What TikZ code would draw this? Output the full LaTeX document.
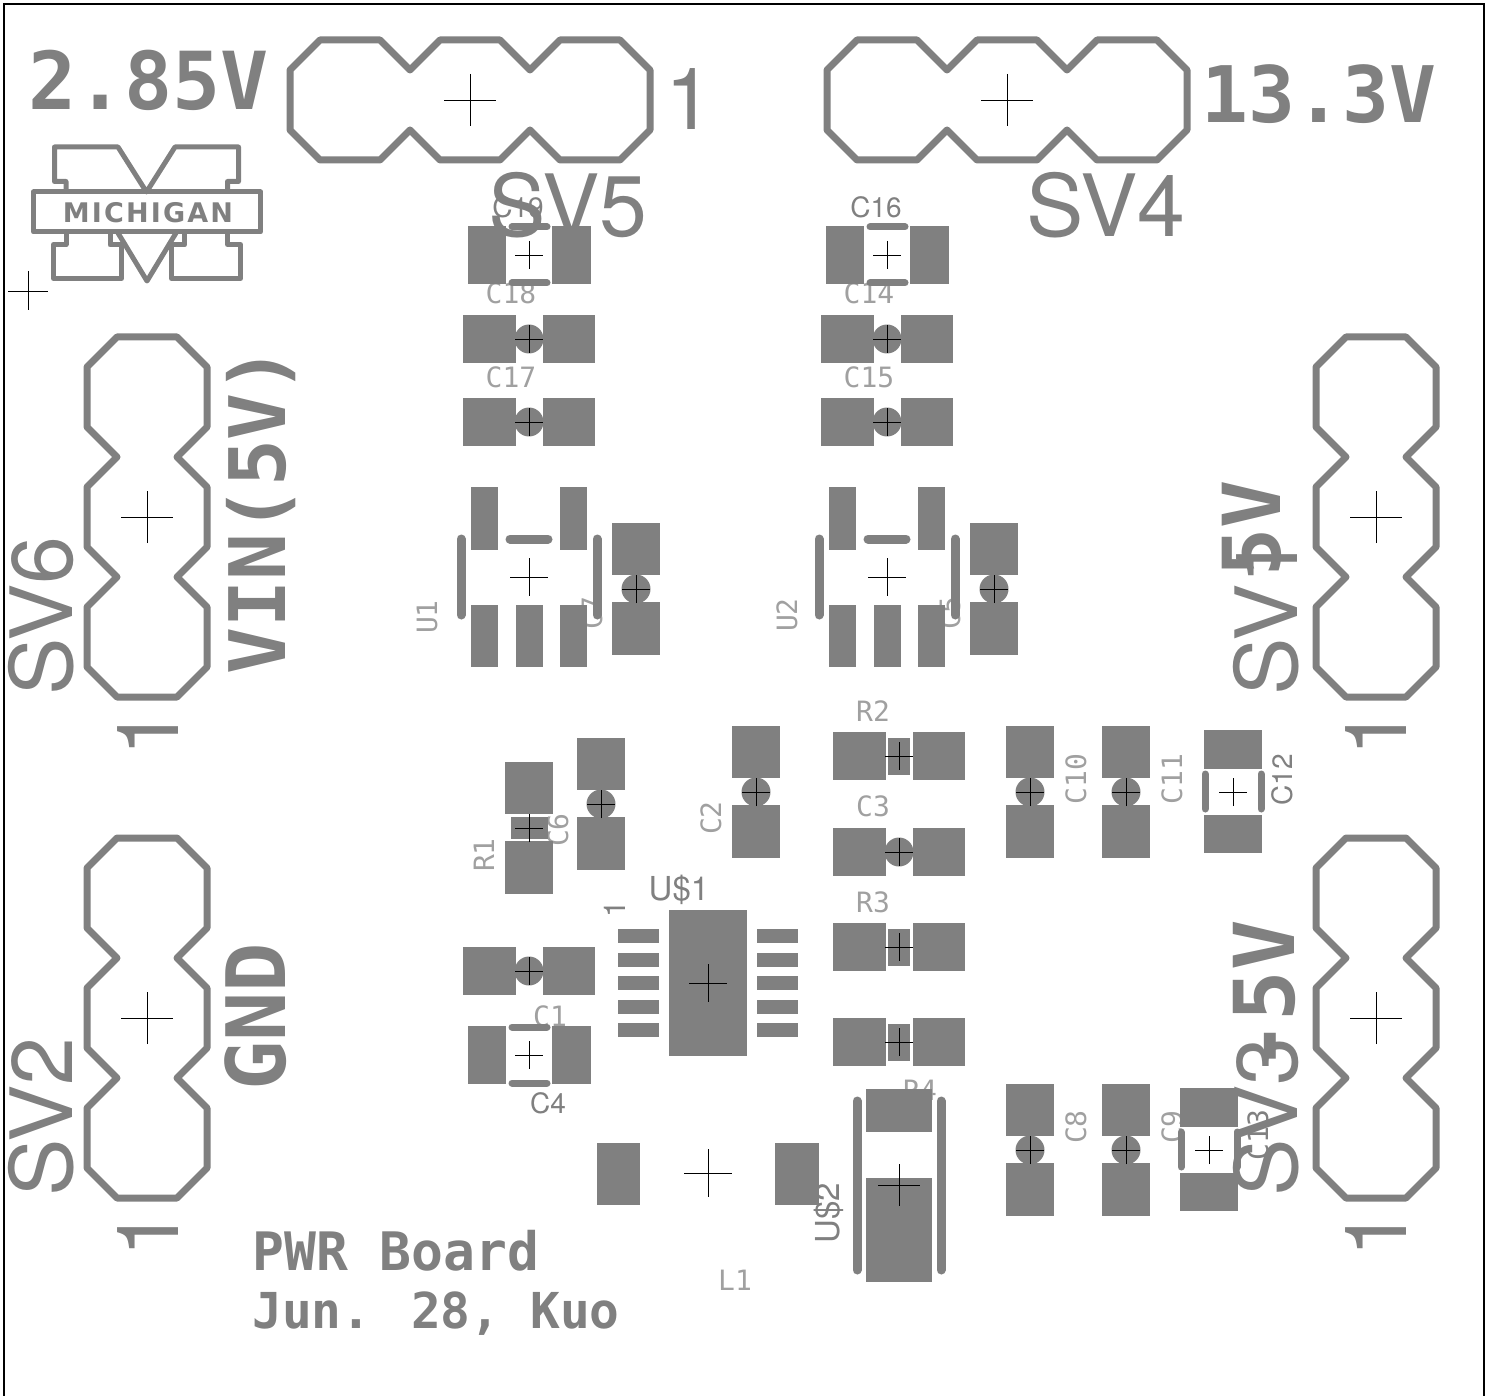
\documentclass[tikz,border=0pt]{standalone}
\usepackage{fontspec}
\setmainfont{TeX Gyre Heros}
\newfontfamily\vecfont{DejaVu Sans Mono}
\newfontfamily\logofont[LetterSpace=8]{DejaVu Sans Bold}
\definecolor{pcbgray}{HTML}{808080}
\definecolor{pcblight}{HTML}{A0A0A0}
\newcommand{\markc}[1]{\draw[mark_c] (-#1,0) -- (#1,0) (0,-#1) -- (0,#1);}
\newcommand{\chippads}{
    \fill[pad_g] (-66,-24) rectangle (-13,24);
    \fill[pad_g] (14,-24) rectangle (66,24);
}
\tikzset{
    pad_g/.style = {fill=pcbgray},
    silk_l/.style = {draw=pcbgray, line width=#1, line cap=round},
    outline_h/.style = {draw=pcbgray, line width=7pt, line join=round},
    logo_l/.style = {draw=pcbgray, line width=5pt, line join=round},
    mark_c/.style = {draw=black, line width=0.8pt},
    vec_b/.style = {font=\vecfont\bfseries\fontsize{#1}{#1}\selectfont,
        text=pcbgray, inner sep=0pt, anchor=base west},
    sans_b/.style = {font=\fontsize{86}{86}\selectfont,
        text=pcbgray, inner sep=0pt, anchor=base west},
    sans_s/.style = {font=\fontsize{#1}{#1}\selectfont, text=pcbgray, inner sep=0pt},
    vec_s/.style = {font=\vecfont\fontsize{28}{28}\selectfont, text=pcblight, inner sep=0pt},
    % header, two rows of three
    header_o/.pic = {
        \draw[outline_h] (-150,-60) -- (-90,-60) -- (-60,-30) -- (-30,-60) -- (30,-60)
            -- (60,-30) -- (90,-60) -- (150,-60) -- (180,-30) -- (180,30) -- (150,60)
            -- (90,60) -- (60,30) -- (30,60) -- (-30,60) -- (-60,30) -- (-90,60)
            -- (-150,60) -- (-180,30) -- (-180,-30) -- cycle;
        \markc{26}
    },
    cap_r/.pic = {
        \chippads
        \fill[pad_g] (0,0) circle (14.5);
        \markc{14}
    },
    res_r/.pic = {
        \chippads
        \fill[pad_g] (-11,-18.5) rectangle (11,18.5);
        \markc{14}
    },
    tan_c/.pic = {
        \fill[pad_g] (-61,-29) rectangle (-23,29);
        \fill[pad_g] (23,-29) rectangle (62,29);
        \draw[silk_l=7pt] (-17,-28) -- (18,-28);
        \draw[silk_l=7pt] (-17,28) -- (18,28);
        \markc{14}
    },
    reg_u/.pic = {
        \fill[pad_g] (-58,-90) rectangle (-31,-27);
        \fill[pad_g] (31,-90) rectangle (58,-27);
        \fill[pad_g] (-58,28) rectangle (-31,90);
        \fill[pad_g] (-13,28) rectangle (14,90);
        \fill[pad_g] (31,28) rectangle (58,90);
        \draw[silk_l=9pt] (-19,-38) -- (19,-38);
        \draw[silk_l=9pt] (-68,-38) -- (-68,38);
        \draw[silk_l=9pt] (68,-38) -- (68,38);
        \markc{19}
    },
}

\begin{document}
\begin{tikzpicture}[x=1pt,y=-1pt]
\useasboundingbox (0,0) rectangle (1491,1396);
\draw[black, line width=1.2pt] (4,1396) -- (4,4) -- (1484,4) -- (1484,1396);

% small part names, under the pads
\node[vec_s] (c18) at (511,293) {C18};
\node[vec_s] (c17) at (511,377) {C17};
\node[vec_s] (c14) at (869,293) {C14};
\node[vec_s] (c15) at (869,377) {C15};
\node[vec_s] (r2) at (873,711) {R2};
\node[vec_s] (c3) at (873,806) {C3};
\node[vec_s] (r3) at (873,902) {R3};
\node[vec_s] (r4) at (920,1090) {R4};
\node[vec_s] (c1) at (550,1016) {C1};
\node[vec_s] (l1) at (735,1280) {L1};
\node[vec_s, rotate=90] (u1) at (427,617) {U1};
\node[vec_s, rotate=90] (u2) at (787,615) {U2};
\node[vec_s, rotate=90] (c7) at (592,613) {C7};
\node[vec_s, rotate=90] (c5) at (950,613) {C5};
\node[vec_s, rotate=90] (r1) at (484,855) {R1};
\node[vec_s, rotate=90] (c6) at (558,830) {C6};
\node[vec_s, rotate=90] (c2) at (711,818) {C2};
\node[vec_s, rotate=90] (c10) at (1076,779) {C10};
\node[vec_s, rotate=90] (c11) at (1172,779) {C11};
\node[vec_s, rotate=90] (c8) at (1076,1127) {C8};
\node[vec_s, rotate=90] (c9) at (1172,1127) {C9};
\node[sans_s=28] (c19) at (518,207) {C19};
\node[sans_s=28] (c16) at (876,207) {C16};
\node[sans_s=28] (c4) at (548,1103) {C4};
\node[sans_s=28, rotate=90] (c12) at (1282,780) {C12};
\node[sans_s=33] (us1) at (679,890) {U\$1};
\node[sans_s=33, rotate=90] (us2) at (829,1213) {U\$2};
\node[sans_s=30, rotate=90] (pin1) at (615,909) {1};

% headers
\pic (sv5) at (470,100) {header_o};
\pic (sv4) at (1007,100) {header_o};
\pic[rotate=90] (sv6) at (147,517) {header_o};
\pic[rotate=90] (sv2) at (147,1018) {header_o};
\pic[rotate=90] (sv1) at (1376,517) {header_o};
\pic[rotate=90] (sv3) at (1376,1018) {header_o};

% parts
\pic (pc19) at (529,255) {tan_c};
\pic (pc16) at (887,255) {tan_c};
\pic (pc18) at (529,339) {cap_r};
\pic (pc17) at (529,422) {cap_r};
\pic (pc14) at (887,339) {cap_r};
\pic (pc15) at (887,422) {cap_r};
\pic (pu1) at (529,577) {reg_u};
\pic (pu2) at (887,577) {reg_u};
\pic[rotate=90] (pc7) at (636,589) {cap_r};
\pic[rotate=90] (pc5) at (994,589) {cap_r};
\pic[rotate=90] (pr1) at (529,828) {res_r};
\pic[rotate=90] (pc6) at (601,804) {cap_r};
\pic[rotate=90] (pc2) at (756,792) {cap_r};
\pic (pr2) at (899,756) {res_r};
\pic (pc3) at (899,852) {cap_r};
\pic (pr3) at (899,947) {res_r};
\pic (pr4) at (899,1042) {res_r};
\pic[rotate=90] (pc10) at (1030,792) {cap_r};
\pic[rotate=90] (pc11) at (1126,792) {cap_r};
\pic[rotate=90] (pc12) at (1233,792) {tan_c};
\pic[rotate=90] (pc8) at (1030,1150) {cap_r};
\pic[rotate=90] (pc9) at (1126,1150) {cap_r};
\pic[rotate=90] (pc13) at (1209,1150) {tan_c};
\pic (pc1) at (529,971) {cap_r};
\pic (pc4) at (529,1055) {tan_c};

% U$1
\fill[pad_g] (669,910) rectangle (747,1056);
\foreach \y in {929,952.5,976,999.5,1023}{
    \fill[pad_g] (618,\y) rectangle (659,\y+14);
    \fill[pad_g] (757,\y) rectangle (798,\y+14);
}
\draw[mark_c] (689,983) -- (727,983) (708,964) -- (708,1002);

% L1
\fill[pad_g] (597,1143) rectangle (640,1205);
\fill[pad_g] (775,1143) rectangle (819,1205);
\draw[mark_c] (684,1173) -- (732,1173) (708,1149) -- (708,1197);

% U$2
\fill[pad_g] (866,1089) rectangle (932,1132);
\fill[pad_g] (866,1178) rectangle (932,1282);
\draw[silk_l=9pt] (857,1101) -- (857,1270);
\draw[silk_l=9pt] (941,1101) -- (941,1270);
\draw[mark_c] (878,1185) -- (920,1185) (899,1164) -- (899,1206);

% logo
\draw[logo_l] (33.5,192) rectangle (260.5,232);
\draw[logo_l] (66,192) -- (66,181.5) -- (54.5,181.5) -- (54.5,147) -- (118,147) -- (146.5,192)
    -- (175,147) -- (238.5,147) -- (238.5,181.5) -- (227.5,181.5) -- (227.5,192);
\draw[logo_l] (66,232) -- (66,244.5) -- (53.5,244.5) -- (53.5,278.5) -- (121.5,278.5) -- (121.5,245)
    -- (110,245) -- (110,232);
\draw[logo_l] (227.5,232) -- (227.5,244.5) -- (240.5,244.5) -- (240.5,278.5) -- (171.5,278.5)
    -- (171.5,245) -- (184.5,245) -- (184.5,232);
\draw[logo_l] (118,233) -- (147,281) -- (176,233);
\node[inner sep=0pt, text=pcbgray, font=\logofont\fontsize{27}{27}\selectfont] (michigan) at (148,213) {MICHIGAN};
\draw[mark_c] (8,291) -- (48,291) (28,271) -- (28,310);

% big texts
\node[vec_b=80] (t285) at (28,110) {2.85V};
\node[vec_b=78] (t133) at (1201,123) {13.3V};
\node[vec_b=78, rotate=90] (tvin) at (285,675) {VIN(5V)};
\node[vec_b=82, rotate=90] (tgnd) at (285,1091) {GND};
\node[vec_b=80, rotate=90] (t5v) at (1280,577) {5V};
\node[vec_b=84, rotate=90] (tm5v) at (1294,1072) {-5V};
\node[vec_b=53] (tpwr) at (252,1270) {PWR Board};
\node[vec_b=49.5] (tjun) at (252,1328) {Jun. 28, Kuo};
\node[sans_b] (nsv5) at (488,237) {SV5};
\node[sans_b] (nsv4) at (1026,237) {SV4};
\node[sans_b, rotate=90] (nsv6) at (72,696) {SV6};
\node[sans_b, rotate=90] (nsv2) at (72,1197) {SV2};
\node[sans_b, rotate=90] (nsv1) at (1297,696) {SV1};
\node[sans_b, rotate=90] (nsv3) at (1297,1197) {SV3};
\node[vec_s, rotate=90, text=pcbgray] (c13) at (1258,1135) {C13};
\node[sans_b] (one5) at (665,130) {1};
\node[sans_b, rotate=90] (one6) at (178,757) {1};
\node[sans_b, rotate=90] (one2) at (178,1258) {1};
\node[sans_b, rotate=90] (one1) at (1406,757) {1};
\node[sans_b, rotate=90] (one3) at (1406,1258) {1};
\end{tikzpicture}
\end{document}
